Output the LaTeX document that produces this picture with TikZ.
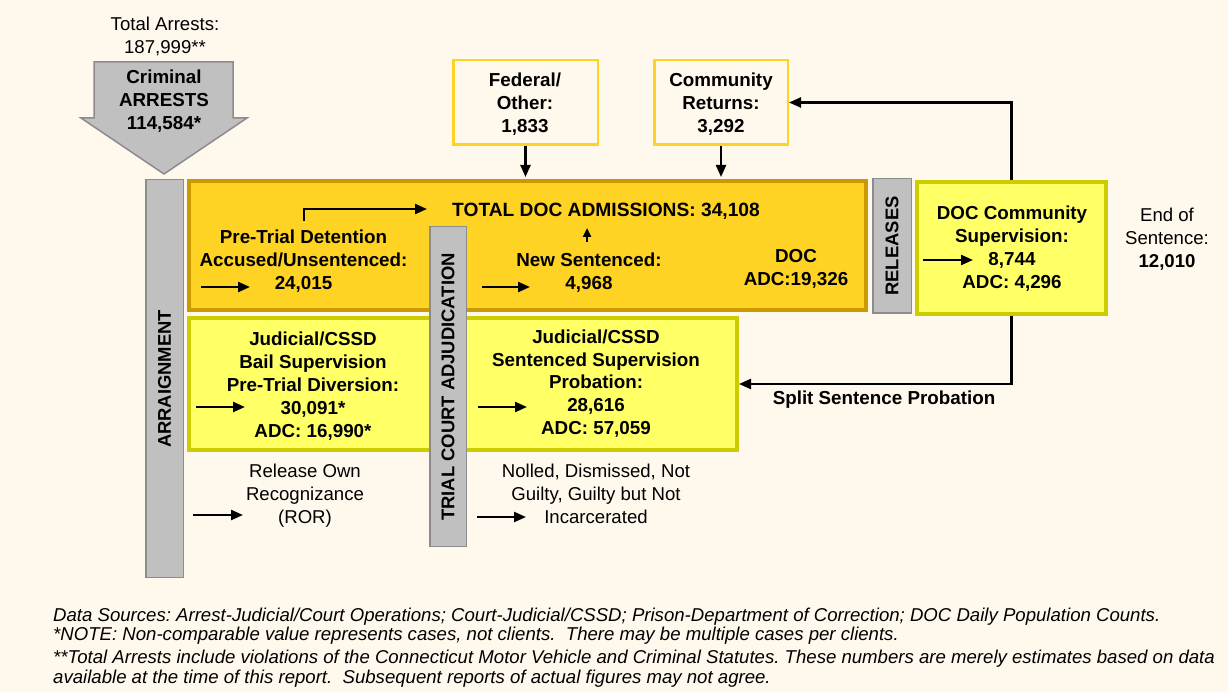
\documentclass[tikz,border=0pt]{standalone}
\usepackage{fontspec}
\setmainfont{Liberation Sans}
\usetikzlibrary{arrows.meta}
\definecolor{bg}{HTML}{FFF8EC}
\definecolor{gold}{HTML}{FFD324}
\definecolor{golddk}{HTML}{CC9900}
\definecolor{lemon}{HTML}{FFFF66}
\definecolor{lemondk}{HTML}{CCCC00}
\definecolor{greybar}{HTML}{C0C0C0}
\definecolor{greydk}{HTML}{8C8C8C}
\newcommand{\mlines}[1]{\begin{tabular}[t]{@{}c@{}}#1\end{tabular}}
\begin{document}
\begin{tikzpicture}[x=1pt,y=-1pt,
  every node/.style={inner sep=0pt},
  txt/.style={anchor=base, font=\fontsize{18.6}{23}\selectfont},
  btxt/.style={anchor=base, font=\fontsize{18.8}{23}\selectfont\bfseries},
  vtxt/.style={anchor=center, rotate=90, font=\fontsize{18.4}{23}\selectfont\bfseries},
  fnote/.style={anchor=base west, font=\fontsize{18.6}{20}\selectfont\itshape\frenchspacing},
  bar/.style={draw=greydk, fill=greybar, line width=1.5pt},
  docbox/.style={draw=golddk, fill=gold, line width=4pt},
  supbox/.style={draw=lemondk, fill=lemon, line width=4pt},
  inbox/.style={draw=gold, fill=bg, line width=2.5pt},
  flow/.style={line width=2.3pt, -{Triangle[length=12pt,width=10pt]}},
]
\useasboundingbox (0,0) rectangle (1228,692);
\fill[bg] (0,0) rectangle (1228,692);

% big grey arrow
\filldraw[fill=greybar, draw=greydk, line width=1.5pt]
  (94,62) -- (233,62) -- (233,118) -- (247,118) -- (164,174) -- (81,118) -- (94,118) -- cycle;

% bars and boxes
\node[bar, minimum width=37.5pt, minimum height=397.5pt] (arraign) at (164.5,378.5) {};
\node[docbox, minimum width=677pt, minimum height=129pt] (doc) at (527.5,245.5) {};
\node[supbox, minimum width=548pt, minimum height=132pt] (supv) at (463,384) {};
\node[bar, minimum width=36.5pt, minimum height=319.5pt] (trial) at (448,386.5) {};
\node[bar, minimum width=38.5pt, minimum height=134.5pt] (rel) at (892,246) {};
\node[supbox, minimum width=189pt, minimum height=132pt] (dcs) at (1011.5,248) {};
\node[inbox, minimum width=144.5pt, minimum height=84.5pt] (fed) at (525.5,102.5) {};
\node[inbox, minimum width=133.5pt, minimum height=84.5pt] (cr) at (721,102.5) {};

% vertical labels
\node[vtxt] (arraignT) at (164.5,379) {ARRAIGNMENT};
\node[vtxt] (trialT) at (448,387) {TRIAL COURT ADJUDICATION};
\node[vtxt] (relT) at (892,246) {RELEASES};

% texts
\node[txt] (totarr) at (165,31) {\mlines{Total Arrests:\\187,999**}};
\node[btxt] (crim) at (164,84) {\mlines{Criminal\\ARRESTS\\114,584*}};
\node[btxt] (fedT) at (525,87) {\mlines{Federal/\\Other:\\1,833}};
\node[btxt] (crT) at (721,87) {\mlines{Community\\Returns:\\3,292}};
\node[btxt, font=\fontsize{19.2}{23}\selectfont\bfseries] (totdoc) at (606,217) {TOTAL DOC ADMISSIONS: 34,108};
\node[btxt] (pretrial) at (303.5,244) {\mlines{Pre-Trial Detention\\Accused/Unsentenced:\\24,015}};
\node[btxt] (newsent) at (589,267) {\mlines{New Sentenced:\\4,968}};
\node[btxt] (docadc) at (796,263) {\mlines{DOC\\ADC:19,326}};
\node[btxt] (dcsT) at (1012,220) {\mlines{DOC Community\\Supervision:\\8,744\\ADC: 4,296}};
\node[txt] (eos) at (1167,222) {\mlines{End of\\Sentence:\\\textbf{12,010}}};
\node[btxt] (bail) at (313,345) {\mlines{Judicial/CSSD\\Bail Supervision\\Pre-Trial Diversion:\\30,091*\\ADC: 16,990*}};
\node[btxt] (sent) at (596,343) {\mlines{Judicial/CSSD\\Sentenced Supervision\\Probation:\\28,616\\ADC: 57,059}};
\node[txt] (ror) at (305,477) {\mlines{Release Own\\Recognizance\\(ROR)}};
\node[txt] (nolled) at (596,477) {\mlines{Nolled, Dismissed, Not\\Guilty, Guilty but Not\\Incarcerated}};
\node[btxt] (split) at (884,404) {Split Sentence Probation};

% footnotes
\node[fnote] (fn1) at (53,621) {Data Sources: Arrest-Judicial/Court Operations; Court-Judicial/CSSD; Prison-Department of Correction; DOC Daily Population Counts.};
\node[fnote] (fn2) at (53,640) {*NOTE: Non-comparable value represents cases, not clients.\ \ There may be multiple cases per clients.};
\node[fnote] (fn3) at (53,663) {**Total Arrests include violations of the Connecticut Motor Vehicle and Criminal Statutes. These numbers are merely estimates based on data};
\node[fnote] (fn4) at (53,683) {available at the time of this report.\ \ Subsequent reports of actual figures may not agree.};

% connectors between boxes
\draw[flow, shorten >=2pt] (fed.south) -- (fed.south |- doc.north);
\draw[flow, shorten >=2pt] (cr.south) -- (cr.south |- doc.north);
\draw[flow] (dcs.north) |- (cr.east);
\draw[flow] (dcs.south) |- (supv.east);

% small arrows
\coordinate (ptA) at (304,221);
\coordinate (ptB) at (427,209);
\draw[flow] (ptA) |- (ptB);
\coordinate (nsA) at (587,242);
\coordinate (nsB) at (587,228);
\draw[flow, -{Triangle[length=9pt,width=8pt]}] (nsA) -- (nsB);

\coordinate (a1s) at (201,287); \coordinate (a1e) at (250,287);
\draw[flow] (a1s) -- (a1e);
\coordinate (a2s) at (482,287); \coordinate (a2e) at (530,287);
\draw[flow] (a2s) -- (a2e);
\coordinate (a3s) at (923,260); \coordinate (a3e) at (973,260);
\draw[flow] (a3s) -- (a3e);
\coordinate (a4s) at (196,407); \coordinate (a4e) at (245,407);
\draw[flow] (a4s) -- (a4e);
\coordinate (a5s) at (478,407); \coordinate (a5e) at (527,407);
\draw[flow] (a5s) -- (a5e);
\coordinate (a6s) at (193,515); \coordinate (a6e) at (243,515);
\draw[flow] (a6s) -- (a6e);
\coordinate (a7s) at (477,517); \coordinate (a7e) at (526,517);
\draw[flow] (a7s) -- (a7e);
\end{tikzpicture}
\end{document}
